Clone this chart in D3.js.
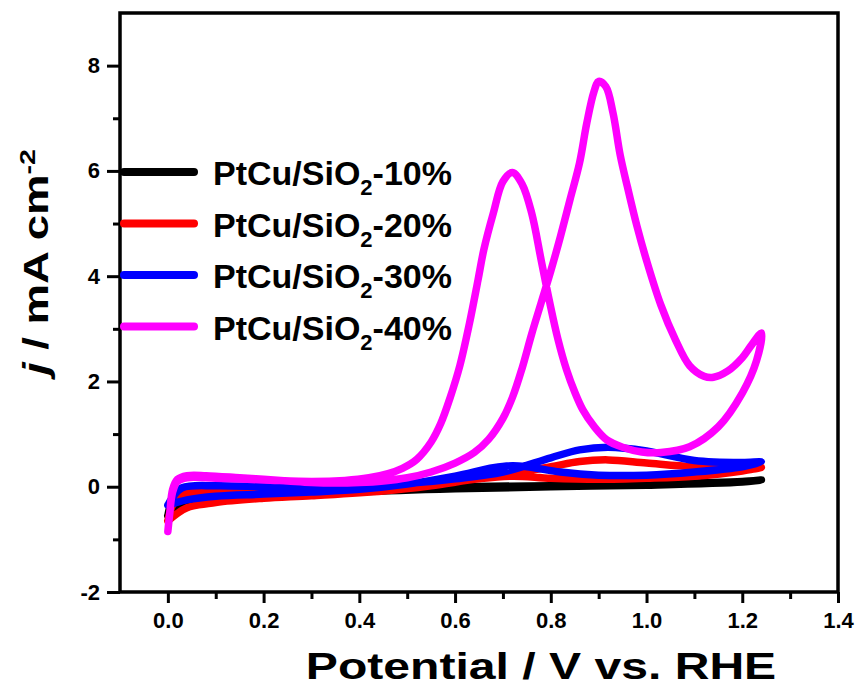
<!DOCTYPE html>
<html>
<head>
<meta charset="utf-8">
<script src="https://cdn.jsdelivr.net/npm/d3@7"></script>
<style>
  body { margin: 0; background: #fff; }
  text { font-family: "Liberation Sans", Arial, sans-serif; font-weight: bold; }
</style>
</head>
<body>
<svg width="859" height="691"></svg>
<script>
// CV loops: forward scan then reverse scan, [potential V, j mA cm-2]
var seriesNames = ["PtCu/SiO2-10%", "PtCu/SiO2-20%", "PtCu/SiO2-30%", "PtCu/SiO2-40%"];
var seriesColors = ["#000000", "#ff0000", "#0000ff", "#ff00ff"];

var cv10 = [[0,-0.55],[0.01,-0.25],[0.03,-0.1],[0.1,-0.05],[0.2,-0.03],[0.4,-0.01],[0.6,0.0],[0.8,0.02],[1.0,0.05],[1.2,0.1],[1.24,0.13],
            [1.2,0.09],[1.0,0.03],[0.8,0.0],[0.6,-0.04],[0.4,-0.1],[0.2,-0.2],[0.1,-0.27],[0.03,-0.35],[0.0,-0.55]];
var cv20 = [[0,-0.65],[0.01,-0.35],[0.03,-0.15],[0.1,-0.1],[0.2,-0.08],[0.3,-0.05],[0.4,0.0],[0.5,0.05],[0.6,0.12],[0.7,0.22],[0.8,0.38],[0.86,0.48],[0.92,0.51],[1.0,0.45],[1.1,0.38],[1.24,0.37],
            [1.2,0.3],[1.1,0.2],[1.0,0.16],[0.9,0.14],[0.8,0.16],[0.72,0.2],[0.65,0.15],[0.55,0.02],[0.45,-0.08],[0.3,-0.17],[0.2,-0.22],[0.1,-0.3],[0.04,-0.4],[0.0,-0.65]];
var cv30 = [[0,-0.35],[0.01,-0.2],[0.03,-0.02],[0.1,0.02],[0.2,0.0],[0.3,-0.02],[0.4,0.0],[0.5,0.06],[0.6,0.15],[0.7,0.28],[0.8,0.55],[0.86,0.7],[0.92,0.75],[1.0,0.68],[1.1,0.5],[1.2,0.46],[1.24,0.47],
            [1.2,0.38],[1.1,0.28],[1.0,0.22],[0.9,0.22],[0.82,0.28],[0.75,0.38],[0.72,0.4],[0.68,0.36],[0.6,0.2],[0.5,0.05],[0.4,-0.05],[0.3,-0.1],[0.2,-0.14],[0.1,-0.18],[0.04,-0.25],[0.0,-0.35]];
var cv40 = [[0,-0.85],[0.004,-0.5],[0.01,-0.05],[0.02,0.14],[0.04,0.21],[0.08,0.21],[0.15,0.17],[0.2,0.14],[0.25,0.11],[0.3,0.08],[0.35,0.07],[0.4,0.08],[0.45,0.11],[0.5,0.17],[0.55,0.28],[0.6,0.45],[0.64,0.65],[0.67,0.9],[0.7,1.3],[0.72,1.7],[0.74,2.25],[0.76,2.9],[0.78,3.5],[0.8,4.1],[0.82,4.75],[0.84,5.45],[0.86,6.15],[0.875,6.9],[0.89,7.5],[0.9,7.7],[0.915,7.6],[0.93,7.1],[0.945,6.3],[0.96,5.7],[0.98,4.95],[1.0,4.3],[1.03,3.45],[1.06,2.8],[1.09,2.3],[1.12,2.1],[1.14,2.08],[1.17,2.2],[1.2,2.45],[1.22,2.7],[1.24,2.92],
            [1.23,2.4],[1.2,1.78],[1.15,1.14],[1.09,0.76],[1.03,0.65],[0.99,0.66],[0.95,0.75],[0.917,0.89],[0.89,1.15],[0.867,1.46],[0.85,1.8],[0.833,2.22],[0.815,2.8],[0.798,3.49],[0.78,4.3],[0.76,5.2],[0.74,5.75],[0.72,5.97],[0.70,5.8],[0.68,5.2],[0.66,4.5],[0.648,3.93],[0.63,3.1],[0.61,2.3],[0.59,1.7],[0.57,1.2],[0.55,0.85],[0.52,0.52],[0.49,0.35],[0.46,0.25],[0.42,0.17],[0.37,0.12],[0.3,0.1],[0.2,0.13],[0.1,0.16],[0.04,0.17],[0.02,0.1],[0.01,-0.1],[0.004,-0.5],[0,-0.85]];
var seriesData = [cv10, cv20, cv30, cv40];

var xTicks = [0.0, 0.2, 0.4, 0.6, 0.8, 1.0, 1.2, 1.4];
var xMinor = [0.1, 0.3, 0.5, 0.7, 0.9, 1.1, 1.3];
var yTicks = [-2, 0, 2, 4, 6, 8];
var yMinor = [-1, 1, 3, 5, 7];

var svg = d3.select("svg"),
    mLeft = 120, mRight = 838, mTop = 13, mBottom = 592;

var x = d3.scaleLinear().domain([-0.1, 1.4]).range([mLeft, mRight]),
    y = d3.scaleLinear().domain([-2, 9]).range([mBottom, mTop]);

var line = d3.line()
    .x(function(d) { return x(d[0]); })
    .y(function(d) { return y(d[1]); })
    .curve(d3.curveCatmullRom.alpha(0.5));

// curves
svg.append("g").selectAll("path")
  .data(seriesData)
  .enter().append("path")
  .attr("d", line)
  .attr("fill", "none")
  .attr("stroke", function(d, i) { return seriesColors[i]; })
  .attr("stroke-width", 7.5)
  .attr("stroke-linejoin", "round")
  .attr("stroke-linecap", "round");

// axes (plain hyphen for negatives, like the original)
var xAxis = d3.axisBottom(x).tickValues(xTicks).tickFormat(function(d) { return d.toFixed(1); }).tickSize(11).tickPadding(9);
var yAxis = d3.axisLeft(y).tickValues(yTicks).tickFormat(function(d) { return String(d); }).tickSize(13).tickPadding(7);

svg.append("g").attr("transform", "translate(0," + mBottom + ")").call(xAxis);
svg.append("g").attr("transform", "translate(" + mLeft + ",0)").call(yAxis);

svg.append("g").attr("transform", "translate(0," + mBottom + ")")
  .call(d3.axisBottom(x).tickValues(xMinor).tickSize(7).tickFormat(""));
svg.append("g").attr("transform", "translate(" + mLeft + ",0)")
  .call(d3.axisLeft(y).tickValues(yMinor).tickSize(7).tickFormat(""));

svg.selectAll(".domain").remove();
svg.selectAll(".tick line").attr("stroke", "#000").attr("stroke-width", 3);
svg.selectAll(".tick text").attr("fill", "#000").style("font-size", "22px")
   .style("font-family", "'Liberation Sans', Arial, sans-serif").style("font-weight", "bold");

// frame
svg.append("rect")
  .attr("x", mLeft).attr("y", mTop)
  .attr("width", mRight - mLeft).attr("height", mBottom - mTop)
  .attr("fill", "none").attr("stroke", "#000").attr("stroke-width", 3.5);

// axis titles
svg.append("text")
  .attr("transform", "translate(541,679) scale(1.3,1)")
  .attr("text-anchor", "middle")
  .style("font-size", "37px")
  .text("Potential / V vs. RHE");

var yl = svg.append("text")
  .attr("transform", "translate(48,262) rotate(-90) scale(1.3,1)")
  .attr("text-anchor", "middle")
  .style("font-size", "35px");
yl.append("tspan").style("font-style", "italic").text("j");
yl.append("tspan").text(" / mA cm");
yl.append("tspan").attr("dy", -13).style("font-size", "22px").text("-2");

// legend
var leg = svg.append("g").selectAll("g")
  .data(seriesNames)
  .enter().append("g")
  .attr("transform", function(d, i) { return "translate(0," + (172 + i * 51.5) + ")"; });

leg.append("line")
  .attr("x1", 124).attr("x2", 194)
  .attr("stroke", function(d, i) { return seriesColors[i]; })
  .attr("stroke-width", 8).attr("stroke-linecap", "round");

var lt = leg.append("text").attr("x", 213).attr("y", 13).style("font-size", "34px");
lt.append("tspan").text(function(d) { return d.split("2-")[0]; });
lt.append("tspan").attr("dy", 10).style("font-size", "22px").text("2");
lt.append("tspan").attr("dy", -10).text(function(d) { return "-" + d.split("2-")[1]; });
</script>
</body>
</html>
